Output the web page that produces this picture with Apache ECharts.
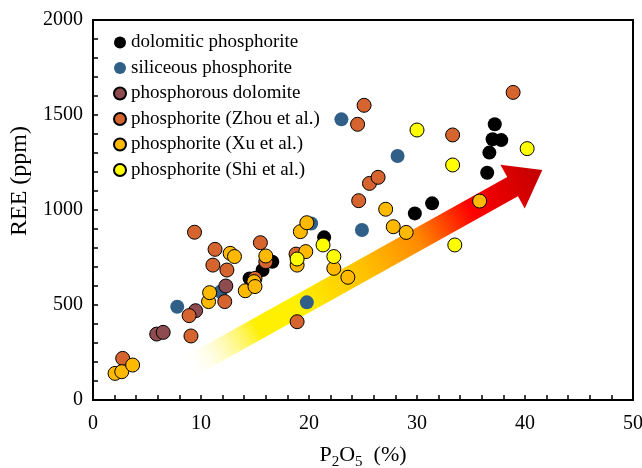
<!DOCTYPE html>
<html>
<head>
<meta charset="utf-8">
<script src="https://cdn.jsdelivr.net/npm/echarts@6/dist/echarts.min.js"></script>
<style>
  html, body { margin: 0; padding: 0; background: #fff; }
  #chart { width: 642px; height: 468px; }
</style>
</head>
<body>
<div id="chart"></div>
<script>
  // P2O5 (%) vs REE (ppm)
  const seriesNames = [
    'dolomitic phosphorite',
    'siliceous phosphorite',
    'phosphorous dolomite',
    'phosphorite (Zhou et al.)',
    'phosphorite (Xu et al.)',
    'phosphorite (Shi et al.)'
  ]
  const dolomitic = [
    [14.5, 640], [15.7, 684], [16.6, 728], [21.4, 856], [29.8, 982], [31.4, 1035],
    [36.5, 1196], [36.7, 1302], [37.0, 1372], [37.8, 1368], [37.2, 1451]
  ]
  const siliceous = [
    [7.8, 491], [11.8, 570], [19.8, 514], [20.2, 929], [23.0, 1477], [24.9, 895], [28.2, 1284]
  ]
  const phosDolomite = [[5.9, 347], [6.5, 356], [9.5, 470], [12.3, 600]]
  const zhou = [
    [2.75, 219], [8.9, 444], [9.07, 337], [9.4, 883], [11.1, 710], [11.3, 793], [12.4, 684],
    [12.2, 518], [15.0, 640], [15.5, 828], [16.0, 728], [18.8, 768], [18.9, 412], [24.5, 1451],
    [25.1, 1551], [24.6, 1049], [25.6, 1140], [26.4, 1172], [33.3, 1395], [38.9, 1619]
  ]
  const xu = [
    [2.04, 140], [2.66, 149], [3.67, 184], [10.7, 518], [10.8, 565], [12.7, 772], [13.1, 755],
    [14.1, 575], [14.9, 623], [15.0, 597], [16.0, 758], [18.9, 710], [19.2, 886], [19.7, 781],
    [19.8, 933], [22.3, 693], [23.6, 646], [27.1, 1004], [27.8, 912], [29.0, 882], [35.8, 1047]
  ]
  const shi = [
    [18.9, 742], [21.3, 816], [22.3, 755], [30.0, 1421], [33.3, 1237], [33.5, 816], [40.2, 1323]
  ]
  // trend arrow, tail and tip in data units
  const arrowTail = [8.7, 168]
  const arrowTip = [41.6, 1210]

  const colorList = ['#000000', '#305f87', '#8f4c50', '#d5642f', '#ffba00', '#ffff00']
  const allData = [dolomitic, siliceous, phosDolomite, zhou, xu, shi]
  const fontFamily = '"Liberation Serif", "Times New Roman", serif'

  const chart = echarts.init(document.getElementById('chart'))

  const mySeries = allData.map((data, index) => {
    const noBorder = index < 2
    return {
      name: seriesNames[index],
      type: 'scatter',
      data: data,
      symbolSize: 14,
      itemStyle: {
        color: colorList[index],
        opacity: 1,
        borderColor: '#000',
        borderWidth: noBorder ? 0 : 1
      }
    }
  })

  const axisCommon = {
    axisLine: { show: true, onZero: false, lineStyle: { color: '#000', width: 2 } },
    axisTick: { show: true, inside: true, length: 5, lineStyle: { color: '#000', width: 1.5 } },
    minorTick: { show: true, splitNumber: 5, length: 5, lineStyle: { color: '#000', width: 1.5 } },
    splitLine: { show: false }
  }
  const labelStyle = { color: '#000', fontSize: 20, fontFamily: fontFamily, formatter: (v) => String(v) }

  chart.setOption({
    animation: false,
    grid: {
      left: 93, right: 9, top: 20, bottom: 68,
      outerBoundsMode: 'none',
      containLabel: false,
      show: true, borderColor: '#000', borderWidth: 2
    },
    legend: {
      orient: 'vertical',
      left: 108,
      top: 28,
      itemWidth: 12,
      itemHeight: 12,
      itemGap: 6.5,
      data: seriesNames,
      textStyle: { color: '#000', fontSize: 19, fontFamily: fontFamily, lineHeight: 19 }
    },
    xAxis: {
      ...axisCommon,
      type: 'value',
      min: 0, max: 50, interval: 10,
      axisLabel: { ...labelStyle, margin: 14 },
      name: '{a|P}{s|2}{a|O}{s|5}{a|  (%)}',
      nameLocation: 'middle',
      nameGap: 44,
      nameTextStyle: {
        rich: {
          a: { fontSize: 22, fontFamily: fontFamily, color: '#000', verticalAlign: 'bottom', padding: [0, 0, 4, 0] },
          s: { fontSize: 15, fontFamily: fontFamily, color: '#000', verticalAlign: 'bottom' }
        }
      }
    },
    yAxis: {
      ...axisCommon,
      type: 'value',
      min: 0, max: 2000, interval: 500,
      axisLabel: { ...labelStyle, margin: 10 },
      name: 'REE (ppm)',
      nameLocation: 'middle',
      nameGap: 57,
      nameTextStyle: { fontSize: 24, fontFamily: fontFamily, color: '#000', padding: [0, 0, 0, 58] }
    },
    series: mySeries
  })

  // arrow drawn from the axis scales
  const p0 = chart.convertToPixel({ gridIndex: 0 }, arrowTail)
  const p1 = chart.convertToPixel({ gridIndex: 0 }, arrowTip)
  const dx = p1[0] - p0[0]
  const dy = p1[1] - p0[1]
  const len = Math.sqrt(dx * dx + dy * dy)
  const ux = dx / len, uy = dy / len
  const nx = -uy, ny = ux
  const bodyHalf = 11, headHalf = 25, headLen = 34
  const bx = p1[0] - ux * headLen, by = p1[1] - uy * headLen
  const pts = [
    [p0[0] + nx * bodyHalf, p0[1] + ny * bodyHalf],
    [bx + nx * bodyHalf, by + ny * bodyHalf],
    [bx + nx * headHalf, by + ny * headHalf],
    [p1[0], p1[1]],
    [bx - nx * headHalf, by - ny * headHalf],
    [bx - nx * bodyHalf, by - ny * bodyHalf],
    [p0[0] - nx * bodyHalf, p0[1] - ny * bodyHalf]
  ]
  chart.setOption({
    graphic: [{
      type: 'polygon',
      z: 1,
      shape: { points: pts },
      style: {
        fill: new echarts.graphic.LinearGradient(p0[0], p0[1], p1[0], p1[1], [
          { offset: 0, color: 'rgba(255, 255, 255, 0)' },
          { offset: 0.2, color: '#ffef00' },
          { offset: 0.32, color: '#fff000' },
          { offset: 0.5, color: '#ffc000' },
          { offset: 0.65, color: '#ff8a00' },
          { offset: 0.8, color: '#ff0000' },
          { offset: 1, color: '#c00000' }
        ], true)
      }
    }]
  })
</script>
</body>
</html>
